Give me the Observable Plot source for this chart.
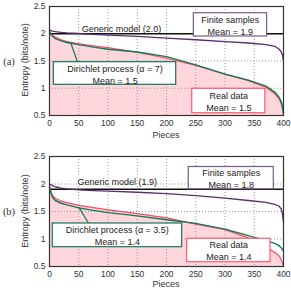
<!DOCTYPE html>
<html>
<head>
<meta charset="utf-8">
<script src="https://cdn.jsdelivr.net/npm/d3@7"></script>
<script src="https://cdn.jsdelivr.net/npm/@observablehq/plot@0.6"></script>
<style>
  html, body { margin: 0; padding: 0; background: #fff; }
  #wrap { position: relative; width: 291px; height: 292px; overflow: hidden; font-family: "Liberation Sans", Arial, sans-serif; color: #333; }
  .panel { position: absolute; left: 0; }
  .lbl { position: absolute; transform: translate(-50%, -50%); white-space: nowrap; font-size: 9px; }
  .ylab { position: absolute; transform: translate(-50%, -50%) rotate(-90deg); white-space: nowrap; font-size: 9px; }
  .tag { position: absolute; transform: translate(-50%, -50%); font-family: "Liberation Serif", "Times New Roman", serif; font-size: 10.5px; }
</style>
</head>
<body>
<div id="wrap">
  <div class="panel" id="pa" style="top:0"></div>
  <div class="panel" id="pb" style="top:145px"></div>
  <div class="tag" style="left:9px; top:61px">(a)</div>
  <div class="tag" style="left:9px; top:211px">(b)</div>
  <div class="ylab" style="left:25px; top:60px">Entropy (bits/note)</div>
  <div class="ylab" style="left:25px; top:211px">Entropy (bits/note)</div>
  <div class="lbl" style="left:166px; top:135px">Pieces</div>
  <div class="lbl" style="left:166px; top:284px">Pieces</div>
</div>
<script>
// ---- data ----
const xTicks = [0, 50, 100, 150, 200, 250, 300, 350, 400];
const yTicks = [0.5, 1, 1.5, 2, 2.5];
const yTickLabels = ["0.5", "1", "1.5", "2", "2.5"];

const pieces = [0, 2, 5, 10, 20, 30, 50, 75, 100, 150, 200, 250, 300, 340, 370, 385, 392, 396, 398, 400];

// panel (a)
const genericA = 2.0;
const finiteA = [2.07, 2.06, 2.05, 2.04, 2.025, 2.015, 2.005, 1.99, 1.975, 1.95, 1.92, 1.89, 1.855, 1.83, 1.80, 1.77, 1.72, 1.67, 1.62, 1.50];
const dirichletA = [2.05, 2.0, 1.96, 1.91, 1.87, 1.84, 1.80, 1.755, 1.715, 1.665, 1.58, 1.43, 1.26, 1.15, 1.04, 0.93, 0.84, 0.76, 0.68, 0.55];
const realA = [2.05, 2.0, 1.97, 1.94, 1.89, 1.855, 1.815, 1.78, 1.745, 1.66, 1.55, 1.42, 1.26, 1.14, 1.02, 0.90, 0.81, 0.72, 0.63, 0.50];

// panel (b)
const genericB = 1.905;
const finiteB = [2.0, 1.99, 1.97, 1.95, 1.925, 1.91, 1.895, 1.88, 1.87, 1.85, 1.825, 1.79, 1.745, 1.70, 1.665, 1.63, 1.60, 1.55, 1.47, 1.30];
const dirichletB = [1.94, 1.86, 1.76, 1.70, 1.65, 1.62, 1.567, 1.52, 1.48, 1.42, 1.35, 1.285, 1.18, 1.06, 0.97, 0.92, 0.88, 0.84, 0.81, 0.78];
const realB = [1.97, 1.88, 1.79, 1.74, 1.69, 1.66, 1.61, 1.57, 1.53, 1.46, 1.385, 1.27, 1.17, 1.02, 0.85, 0.76, 0.70, 0.63, 0.57, 0.50];

// ---- annotations (data coordinates) ----
const annA = {
  generic: {x: 123, y: 2.09, text: "Generic model (2.0)"},
  boxes: [
    {x1: 246.7, x2: 372, y1: 1.95, y2: 2.377, cx: 309, cy: 2.151, text: "Finite samples\nMean = 1.9", color: "#7a5a8c"},
    {x1: 7.4, x2: 216.6, y1: 1.063, y2: 1.478, cx: 112, cy: 1.252, text: "Dirichlet process (α = 7)\nMean = 1.5", color: "#16775a"},
    {x1: 244, x2: 369, y1: 0.542, y2: 0.99, cx: 306.5, cy: 0.766, text: "Real data\nMean = 1.5", color: "#ff5a6e"}
  ],
  pointer: {x1: 36, y1: 1.845, x2: 48, y2: 1.478}
};
const annB = {
  generic: {x: 115.7, y: 2.033, text: "Generic model (1.9)"},
  boxes: [
    {x1: 238, x2: 383.4, y1: 1.905, y2: 2.309, cx: 310.7, cy: 2.1, text: "Finite samples\nMean = 1.8", color: "#7a5a8c"},
    {x1: 5.6, x2: 226.8, y1: 0.851, y2: 1.282, cx: 116, cy: 1.064, text: "Dirichlet process (α = 3.5)\nMean = 1.4", color: "#16775a"},
    {x1: 235.4, x2: 377.8, y1: 0.578, y2: 1.004, cx: 306.5, cy: 0.791, text: "Real data\nMean = 1.4", color: "#ff5a6e"}
  ],
  pointer: {x1: 50, y1: 1.58, x2: 67, y2: 1.282}
};

function series(vals) { return pieces.map((p, i) => ({x: p, y: vals[i]})); }

function panel(generic, finite, dirichlet, real, ann, height, mt, mb) {
  const realData = series(real);
  return Plot.plot({
    width: 291, height: height,
    marginLeft: 49, marginRight: 8, marginTop: mt, marginBottom: mb,
    style: {fontSize: "8.5px", fontFamily: "'Liberation Sans', Arial, sans-serif", color: "#333", background: "#fff"},
    x: {domain: [0, 400]},
    y: {domain: [0.5, 2.5]},
    marks: [
      Plot.areaY(realData, {x: "x", y1: yTicks[0], y2: "y", fill: "#ffd6dc", curve: "linear"}),
      Plot.gridX(xTicks, {stroke: "#999", strokeOpacity: 1, strokeDasharray: "1,2"}),
      Plot.gridY(yTicks, {stroke: "#999", strokeOpacity: 1, strokeDasharray: "1,2"}),
      Plot.ruleY([generic], {stroke: "#111", strokeWidth: 1.3}),
      Plot.line(series(finite), {x: "x", y: "y", stroke: "#5b2d6e", strokeWidth: 1.3}),
      Plot.line(realData, {x: "x", y: "y", stroke: "#ff4a5e", strokeWidth: 1.2}),
      Plot.line(series(dirichlet), {x: "x", y: "y", stroke: "#107a58", strokeWidth: 1.4}),
      Plot.link([ann.pointer], {x1: "x1", y1: "y1", x2: "x2", y2: "y2", stroke: "#107a58", strokeWidth: 1.2}),
      Plot.text([ann.generic], {x: "x", y: "y", text: "text", fontSize: 9, fill: "#222"}),
      Plot.rect(ann.boxes, {x1: "x1", x2: "x2", y1: "y1", y2: "y2", fill: "#fff", stroke: "color", strokeWidth: 1.2}),
      Plot.text(ann.boxes, {x: "cx", y: "cy", text: "text", fontSize: 9, lineHeight: 1.3, fill: "#222"}),
      Plot.frame({stroke: "#333", strokeWidth: 1.2}),
      Plot.axisX({ticks: xTicks, tickSize: 0, tickPadding: 4, label: null}),
      Plot.axisY({ticks: yTicks, tickSize: 0, tickPadding: 4, label: null,
        tickFormat: (d) => yTickLabels[yTicks.indexOf(d)]})
    ]
  });
}

document.getElementById("pa").appendChild(panel(genericA, finiteA, dirichletA, realA, annA, 145, 6, 30));
document.getElementById("pb").appendChild(panel(genericB, finiteB, dirichletB, realB, annB, 147, 11, 26));
</script>
</body>
</html>
